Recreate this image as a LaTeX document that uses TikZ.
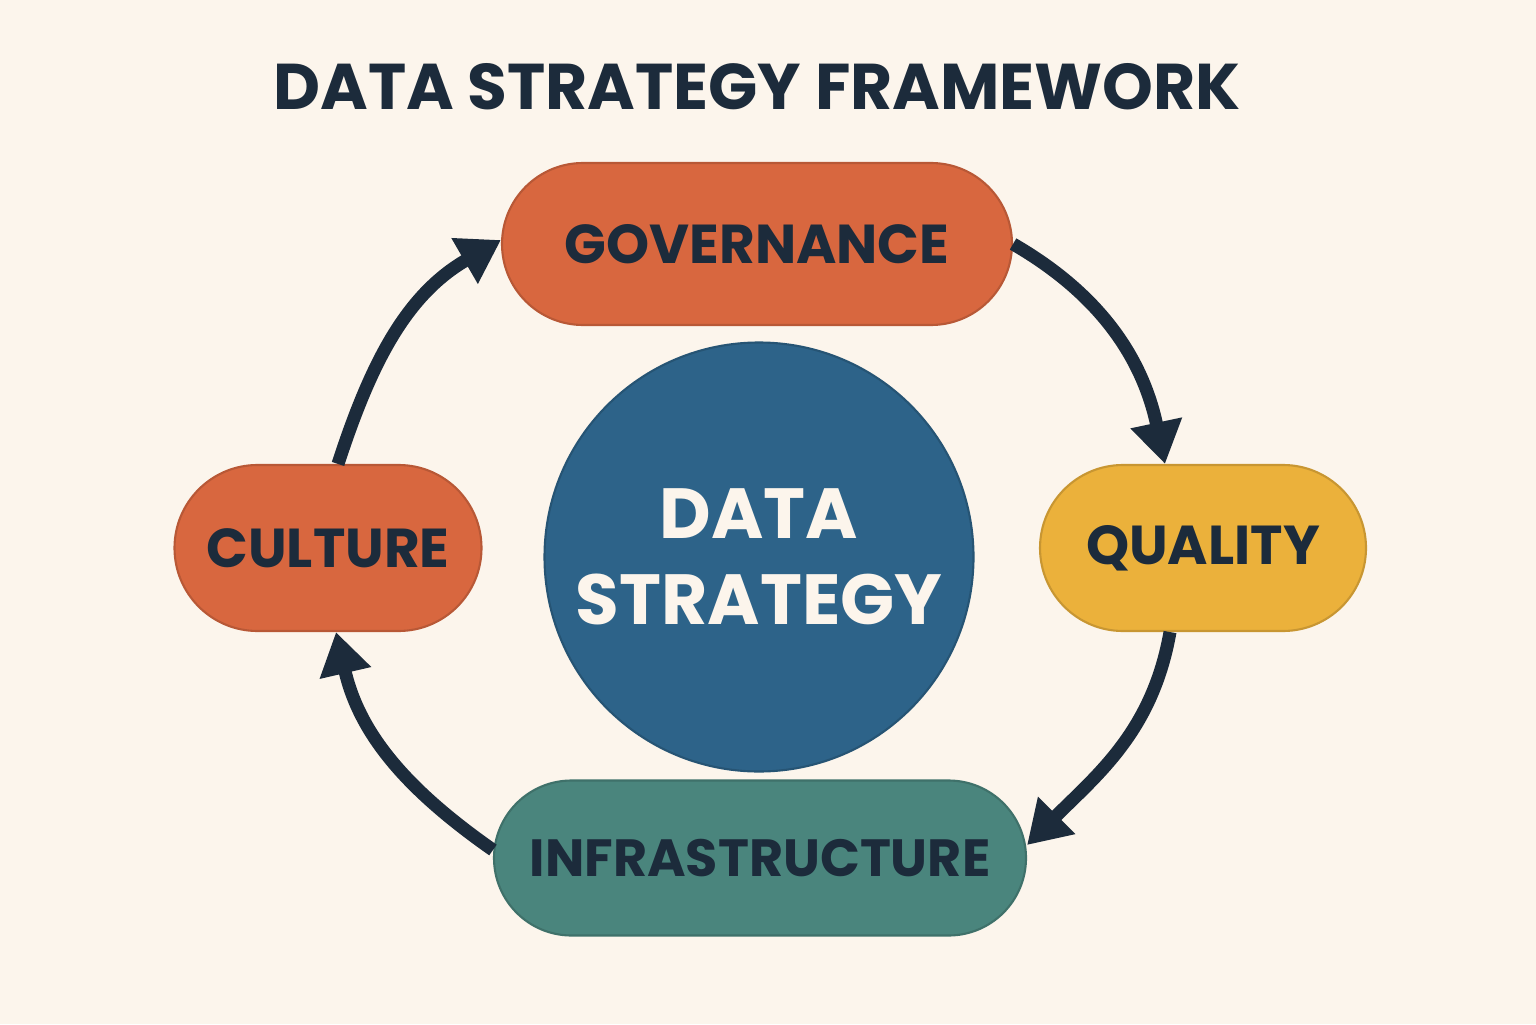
\documentclass[tikz,border=0pt]{standalone}
\usepackage{fontspec}
\setmainfont{Poppins}
\usepackage{tikz}
\usetikzlibrary{arrows.meta}
\usetikzlibrary{shapes.misc}
\definecolor{paper}{HTML}{FCF5EC}
\definecolor{navy}{HTML}{1C2B3B}
\definecolor{rust}{HTML}{D8673F}
\definecolor{mustard}{HTML}{EBB13B}
\definecolor{teal}{HTML}{4A857D}
\definecolor{ocean}{HTML}{2D6389}

\begin{document}
\begin{tikzpicture}[thick, align=center,
    pill/.style={rounded rectangle, draw=#1!85!black, fill=#1, line width=0.6pt,
        text=navy, font=\bfseries\fontsize{15.6}{18}\selectfont, inner sep=0},
    flow/.style={-{Triangle[length=0.42cm, width=0.5cm]}, draw=navy, line width=0.13cm}]

\fill[paper] (0,0) rectangle (15.36,10.24);
\useasboundingbox (0,0) rectangle (15.36,10.24);

\draw
    (7.57,9.37) node [name=title, text=navy, font=\bfseries\fontsize{18.4}{22}\selectfont] {DATA STRATEGY FRAMEWORK}
    (7.57,7.80) node [pill=rust, minimum width=5.10cm, minimum height=1.62cm, name=governance] {GOVERNANCE}
    (12.03,4.76) node [pill=mustard, minimum width=3.26cm, minimum height=1.66cm, name=quality] {QUALITY}
    (7.60,1.66) node [pill=teal, minimum width=5.32cm, minimum height=1.55cm, name=infrastructure,
        font=\bfseries\fontsize{14.9}{18}\selectfont] {INFRASTRUCTURE}
    (3.28,4.76) node [pill=rust, minimum width=3.07cm, minimum height=1.66cm, name=culture] {CULTURE}
    (7.59,4.67) node [circle, draw=ocean!85!black, fill=ocean, line width=0.6pt, minimum size=4.29cm, inner sep=0,
        text=paper, font=\bfseries\fontsize{20.2}{24.5}\selectfont, name=data strategy] {DATA\\STRATEGY}
;

%% Cycle
\draw[flow] (governance.east) to[out=-30, in=102] ([xshift=-0.38cm]quality.north);
\draw[flow] ([xshift=-0.33cm]quality.south) to[out=-100, in=45] ([yshift=0.13cm]infrastructure.east);
\draw[flow] ([yshift=0.08cm]infrastructure.west) to[out=145, in=-77] ([xshift=0.08cm]culture.south);
\draw[flow] ([xshift=0.10cm]culture.north) to[out=72, in=210] ([yshift=0.04cm]governance.west);

\end{tikzpicture}
\end{document}
